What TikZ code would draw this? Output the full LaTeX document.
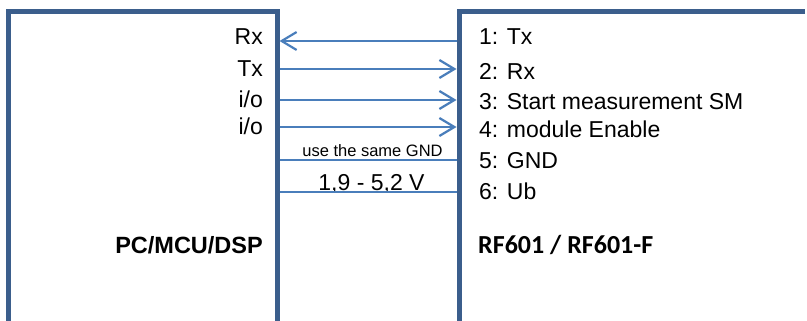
\documentclass[tikz,border=0pt]{standalone}
\usepackage{fontspec}
\setmainfont{Liberation Sans}
\newfontfamily\calib{Carlito}
\usetikzlibrary{arrows.meta}
\definecolor{boxblue}{HTML}{3B5E8C}
\definecolor{wireblue}{HTML}{4A7EBB}
\tikzset{
  boxline/.style={draw=boxblue,line width=5pt,line cap=butt,line join=miter},
  wire/.style={draw=wireblue,line width=2.2pt},
  tip/.style={-{Straight Barb[length=15pt,width=18pt,line width=2.2pt]}},
  pinl/.style={anchor=base east,inner sep=0pt,font=\fontsize{23}{27}\selectfont},
  pinr/.style={anchor=base west,inner sep=0pt,font=\fontsize{23}{27}\selectfont},
  smalltxt/.style={anchor=base,inner sep=0pt,font=\fontsize{16.5}{20}\selectfont},
  title/.style={inner sep=0pt,font=\bfseries}
}
\begin{document}
\begin{tikzpicture}[x=1pt,y=-1pt]
\useasboundingbox (0,0) rectangle (807,321);
% boxes (open at the bottom / right)
\draw[boxline] (8,325) -- (8,11.5) -- (277,11.5) -- (277,325);
\draw[boxline] (459,325) -- (459,11.5) -- (805,11.5);
% connector end points on the box edges
\coordinate (a1) at (279.5,41);  \coordinate (b1) at (456.5,41);
\coordinate (a2) at (279.5,69);  \coordinate (b2) at (456.5,69);
\coordinate (a3) at (279.5,100); \coordinate (b3) at (456.5,100);
\coordinate (a4) at (279.5,127); \coordinate (b4) at (456.5,127);
\coordinate (a5) at (279.5,160); \coordinate (b5) at (456.5,160);
\coordinate (a6) at (279.5,192); \coordinate (b6) at (456.5,192);
% left labels
\node[pinl] (lrx) at (263,45) {Rx};
\node[pinl] (ltx) at (263,77) {Tx};
\node[pinl] (lio1) at (263,107) {i/o};
\node[pinl] (lio2) at (263,135) {i/o};
% right labels
\node[pinr] (r1) at (479,45) {1: Tx};
\node[pinr] (r2) at (479,80) {2: Rx};
\node[pinr] (r3) at (479,110) {3: Start measurement SM};
\node[pinr] (r4) at (479,138) {4: module Enable};
\node[pinr] (r5) at (479,168) {5: GND};
\node[pinr] (r6) at (479,200) {6: Ub};
% wire labels
\node[smalltxt] (gnd) at (372.5,157) {use the same GND};
\node[anchor=base,inner sep=0pt,font=\fontsize{23}{27}\selectfont] (volt) at (371.5,190) {1,9 - 5,2 V};
% titles
\node[title,anchor=base east,font=\fontsize{23.5}{28}\selectfont\bfseries] (pc) at (263,253) {PC/MCU/DSP};
\node[title,anchor=base west,font=\fontsize{26}{30}\selectfont\calib\bfseries] (rf) at (478,253) {RF601 / RF601-F};
% connectors
\draw[wire,tip] (b1) -- (a1);
\draw[wire,tip] (a2) -- (b2);
\draw[wire,tip] (a3) -- (b3);
\draw[wire,tip] (a4) -- (b4);
\draw[wire] (a5) -- (b5);
\draw[wire] (a6) -- (b6);
\end{tikzpicture}
\end{document}
